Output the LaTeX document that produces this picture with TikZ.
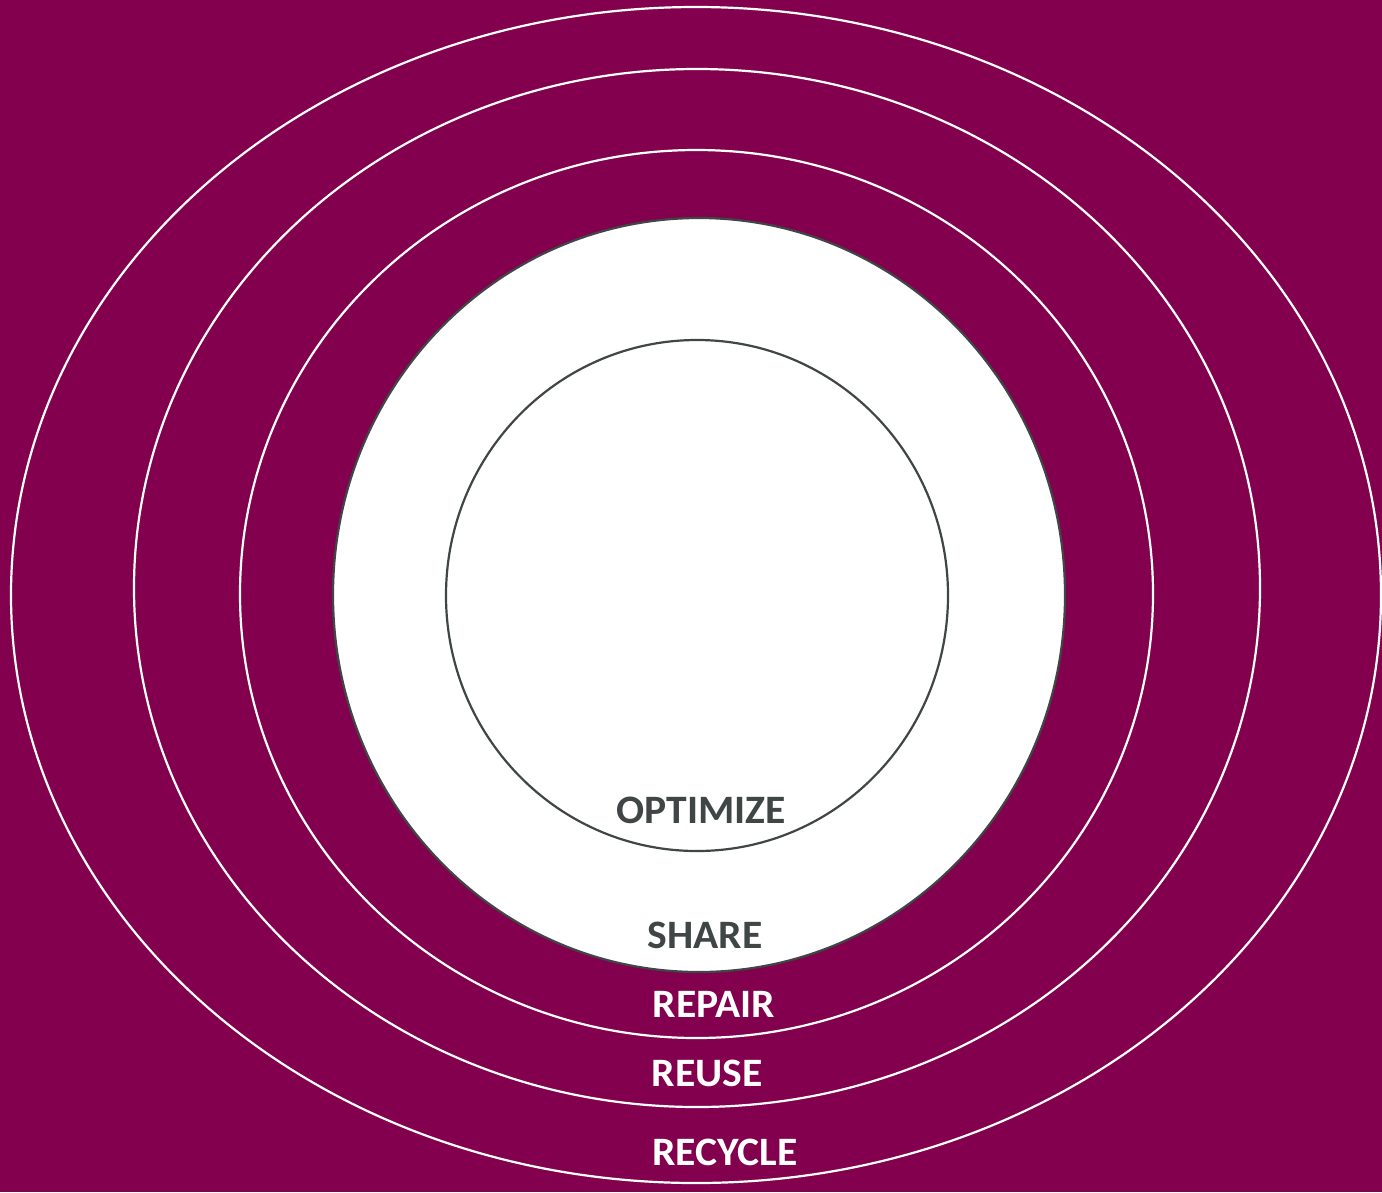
\documentclass[tikz,border=0pt]{standalone}
\usepackage{fontspec}
\setmainfont{Carlito}
\definecolor{bgc}{HTML}{83004E}
\definecolor{gr}{HTML}{404646}
\begin{document}
\begin{tikzpicture}[x=1bp,y=-1bp,
  ring/.style={draw=white,line width=2.2bp},
  grayring/.style={draw=gr,line width=2.2bp},
  lab/.style={anchor=base,font=\fontsize{40.5}{42}\selectfont\bfseries,inner sep=0pt,xscale=1.03}]
\fill[bgc] (0,0) rectangle (1382,1192);
\useasboundingbox (0,0) rectangle (1382,1192);
\draw[ring] (696,595) ellipse [x radius=685,y radius=588];
\draw[ring] (697,588) ellipse [x radius=563,y radius=519];
\draw[ring] (696.5,594) ellipse [x radius=456.5,y radius=444];
\filldraw[fill=white,grayring] (699,595) ellipse [x radius=366,y radius=377];
\draw[grayring] (697,595.5) ellipse [x radius=251,y radius=255.5];
\node[lab,text=gr] (optimize) at (701,823) {OPTIMIZE};
\node[lab,text=gr] (share) at (705,948) {SHARE};
\node[lab,text=white] (repair) at (714,1017) {REPAIR};
\node[lab,text=white] (reuse) at (707,1086) {REUSE};
\node[lab,text=white] (recycle) at (725,1165) {RECYCLE};
\end{tikzpicture}
\end{document}
